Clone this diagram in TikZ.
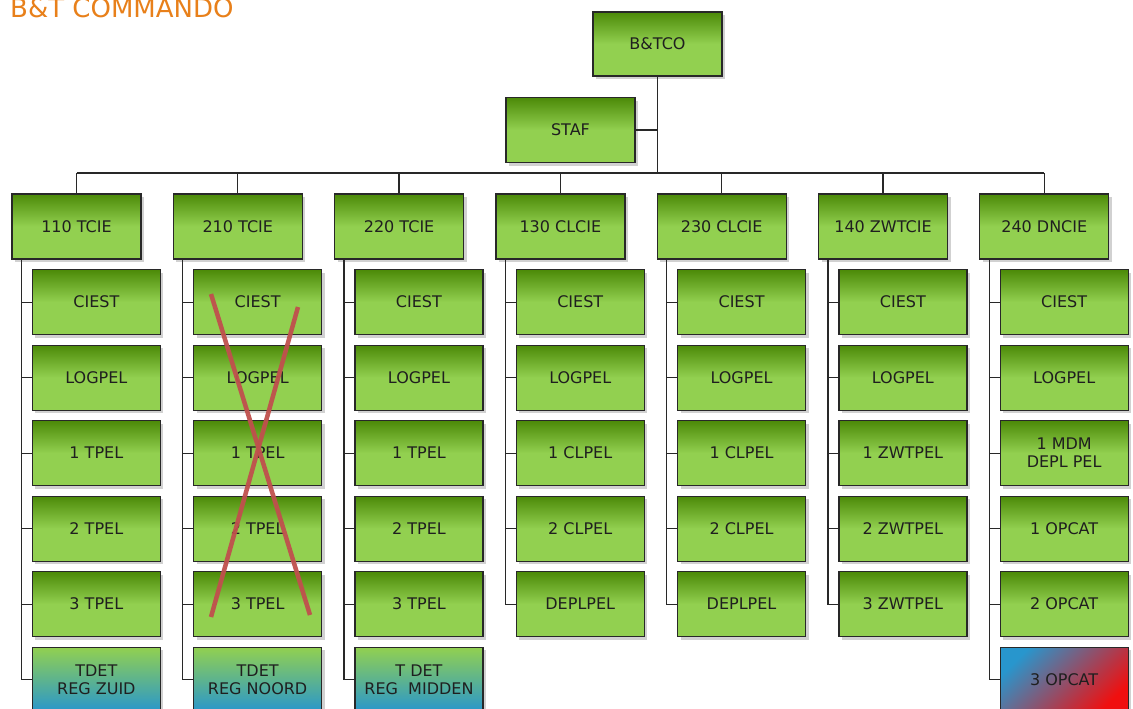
\documentclass[tikz,border=0pt]{standalone}
\usepackage{fontspec}
\setmainfont{DejaVu Sans}
\usetikzlibrary{shadows,calc}
\definecolor{gdark}{RGB}{76,138,8}
\definecolor{glight}{RGB}{146,208,80}
\definecolor{bblue}{RGB}{40,150,205}
\definecolor{rred}{RGB}{240,15,15}
\definecolor{ttl}{RGB}{232,128,26}
\definecolor{xred}{RGB}{192,80,77}
\definecolor{edgec}{RGB}{40,40,40}
\tikzset{
  box/.style={draw=edgec, line width=1.3pt, minimum width=128pt, minimum height=65pt,
    inner sep=0pt, align=center, font=\fontsize{16}{18}\selectfont, text=black!88,
    drop shadow={shadow xshift=3pt, shadow yshift=-3pt, opacity=0.3, fill=black!60}},
  gbox/.style={box, top color=gdark, bottom color=glight, middle color=glight},
  bbox/.style={box, top color=glight, bottom color=bblue, middle color=glight!50!bblue},
  rbox/.style={box, left color=bblue, right color=rred, shading angle=45},
  pbox/.style={gbox, minimum width=129pt},
  conn/.style={draw=edgec, line width=1.3pt},
  cross/.style={draw=xred, line width=4.5pt, opacity=0.95}
}
\begin{document}
\begin{tikzpicture}[x=1pt, y=-1pt]
\useasboundingbox (0,0) rectangle (1133,709);
\node[anchor=base west, text=ttl, font=\fontsize{26}{28}\selectfont, inner sep=0pt] (title) at (10,18) {B\&T COMMANDO};
\coordinate (bus) at (0,173);
\node[pbox, minimum height=64pt] (top) at (657.5,44) {B\&TCO};
\node[pbox] (staf) at (570.5,130) {STAF};
\draw[conn] (top.south) -- (top.south |- bus);
\draw[conn] (staf.east) -- (staf.east -| top.south);
% parents
\foreach \i/\L/\n in {0/12/110 TCIE, 1/173.3/210 TCIE, 2/334.6/220 TCIE, 3/495.9/130 CLCIE, 4/657.2/230 CLCIE, 5/818.5/140 ZWTCIE, 6/979.8/240 DNCIE}{
  \node[pbox] (p\i) at (\L+64.5,226.5) {\n};
}
\draw[conn] (p0.north |- bus) -- (p6.north |- bus);
\foreach \i in {0,...,6}{ \draw[conn] (p\i.north) -- (p\i.north |- bus); }
% standard children
\foreach \c/\r/\t in {
 0/0/CIEST,0/1/LOGPEL,0/2/1 TPEL,0/3/2 TPEL,0/4/3 TPEL,
 1/0/CIEST,1/1/LOGPEL,1/2/1 TPEL,1/3/2 TPEL,1/4/3 TPEL,
 2/0/CIEST,2/1/LOGPEL,2/2/1 TPEL,2/3/2 TPEL,2/4/3 TPEL,
 3/0/CIEST,3/1/LOGPEL,3/2/1 CLPEL,3/3/2 CLPEL,3/4/DEPLPEL,
 4/0/CIEST,4/1/LOGPEL,4/2/1 CLPEL,4/3/2 CLPEL,4/4/DEPLPEL,
 5/0/CIEST,5/1/LOGPEL,5/2/1 ZWTPEL,5/3/2 ZWTPEL,5/4/3 ZWTPEL,
 6/0/CIEST,6/1/LOGPEL,6/3/1 OPCAT,6/4/2 OPCAT}{
  \node[gbox] (k\c-\r) at ($(p\c.south west)+(85,42.5+75.5*\r)$) {\t};
}
\node[gbox] (k6-2) at ($(p6.south west)+(85,42.5+75.5*2)$) {1 MDM\\DEPL PEL};
\node[bbox] (k0-5) at ($(p0.south west)+(85,42.5+75.5*5)$) {TDET\\REG ZUID};
\node[bbox] (k1-5) at ($(p1.south west)+(85,42.5+75.5*5)$) {TDET\\REG NOORD};
\node[bbox] (k2-5) at ($(p2.south west)+(85,42.5+75.5*5)$) {T DET\\REG\ \ MIDDEN};
\node[rbox] (k6-5) at ($(p6.south west)+(85,42.5+75.5*5)$) {3 OPCAT};
% child connectors
\foreach \c/\m in {0/5,1/5,2/5,3/4,4/4,5/4,6/5}{
  \foreach \r in {0,...,\m}{
    \draw[conn] ([xshift=10pt]p\c.south west) |- (k\c-\r.west);
  }
}
% cross over 210 TCIE column
\coordinate (xa) at (211,294);
\coordinate (xb) at (310,615);
\coordinate (xc) at (298,307);
\coordinate (xd) at (211,617);
\draw[cross] (xa) -- (xb);
\draw[cross] (xc) -- (xd);
\end{tikzpicture}
\end{document}
